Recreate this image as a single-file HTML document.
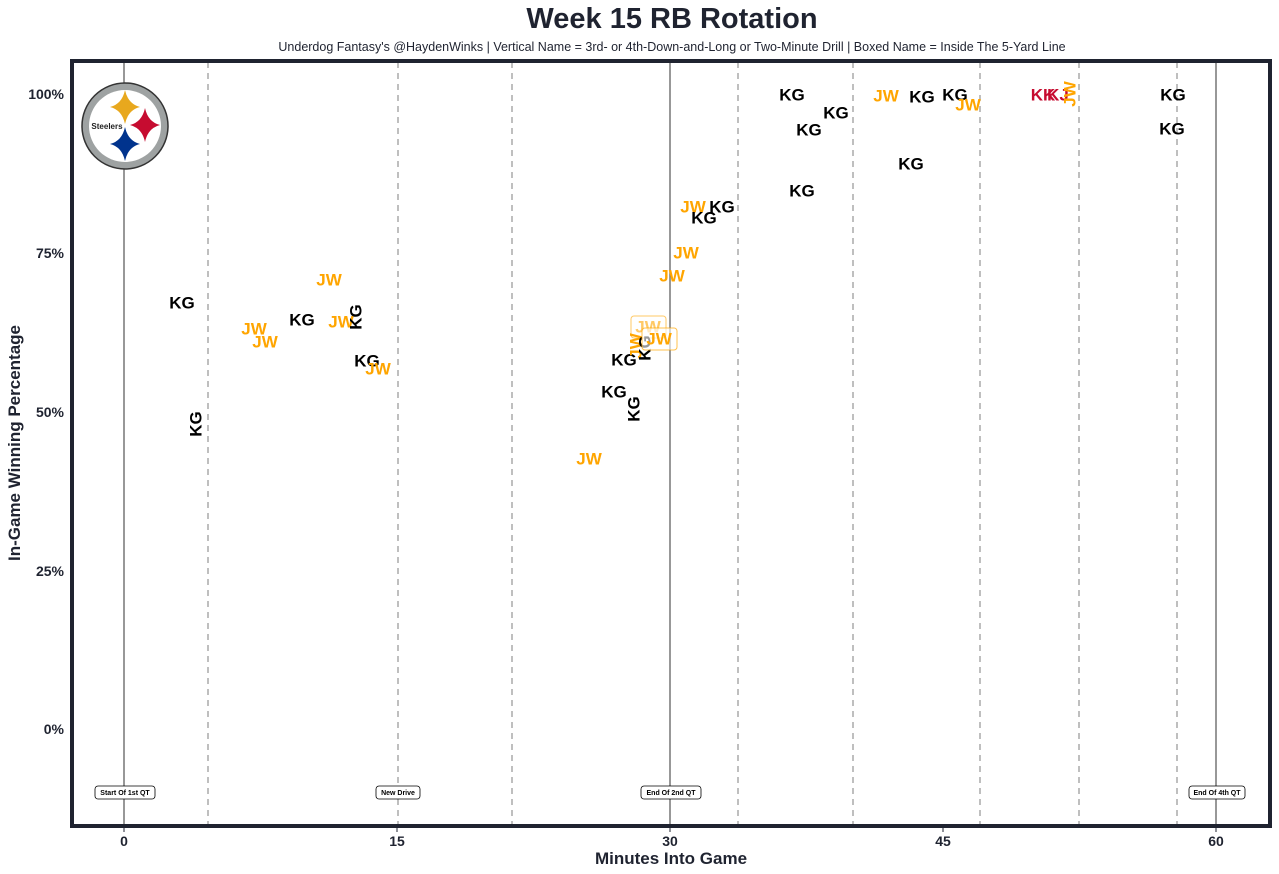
<!DOCTYPE html><html><head><style>body{margin:0;background:#fff}svg{display:block}text{font-family:"Liberation Sans",Arial,sans-serif}</style></head><body>
<svg width="1279" height="874" xmlns="http://www.w3.org/2000/svg">
<text x="672" y="28" text-anchor="middle" font-size="29" font-weight="bold" fill="#1f2330">Week 15 RB Rotation</text>
<text x="672" y="51" text-anchor="middle" font-size="12.5" fill="#1f2330">Underdog Fantasy's @HaydenWinks | Vertical Name = 3rd- or 4th-Down-and-Long or Two-Minute Drill | Boxed Name = Inside The 5-Yard Line</text>
<g stroke="#aaa" stroke-width="1.5" stroke-dasharray="6,5">
<line x1="208" y1="62" x2="208" y2="824"/><line x1="398" y1="62" x2="398" y2="824"/><line x1="512" y1="62" x2="512" y2="824"/><line x1="738" y1="62" x2="738" y2="824"/><line x1="853" y1="62" x2="853" y2="824"/><line x1="980" y1="62" x2="980" y2="824"/><line x1="1079" y1="62" x2="1079" y2="824"/><line x1="1177" y1="62" x2="1177" y2="824"/></g>
<g stroke="#777" stroke-width="1.5"><line x1="124" y1="62" x2="124" y2="824"/><line x1="670" y1="62" x2="670" y2="824"/><line x1="1216" y1="62" x2="1216" y2="824"/></g>
<rect x="72" y="61" width="1198" height="765" fill="none" stroke="#1f2330" stroke-width="4"/>
<g font-size="14" font-weight="bold" fill="#1f2330" text-anchor="end">
<text x="64" y="99">100%</text><text x="64" y="258">75%</text><text x="64" y="417">50%</text><text x="64" y="576">25%</text><text x="64" y="734">0%</text></g>
<g font-size="14" font-weight="bold" fill="#1f2330" text-anchor="middle">
<text x="124" y="846">0</text><text x="397" y="846">15</text><text x="670" y="846">30</text><text x="943" y="846">45</text><text x="1216" y="846">60</text></g>
<g stroke="#1f2330" stroke-width="1"><line x1="124" y1="828" x2="124" y2="832"/><line x1="397" y1="828" x2="397" y2="832"/><line x1="670" y1="828" x2="670" y2="832"/><line x1="943" y1="828" x2="943" y2="832"/><line x1="1216" y1="828" x2="1216" y2="832"/></g>
<text x="671" y="864" text-anchor="middle" font-size="17" font-weight="bold" fill="#1f2330">Minutes Into Game</text>
<text transform="translate(20,443) rotate(-90)" text-anchor="middle" font-size="17" font-weight="bold" fill="#1f2330">In-Game Winning Percentage</text>
<g>
<circle cx="125" cy="126" r="43" fill="#9ea2a2" stroke="#333" stroke-width="1.5"/>
<circle cx="125" cy="126" r="36" fill="#fff"/>
<path d="M125,90 Q128,104 140,107 Q128,110 125,124 Q122,110 110,107 Q122,104 125,90Z" fill="#e8a81e"/>
<path d="M145,108 Q148,122 160,125 Q148,128 145,142 Q142,128 130,125 Q142,122 145,108Z" fill="#c60c30"/>
<path d="M125,127 Q128,141 140,144 Q128,147 125,161 Q122,147 110,144 Q122,141 125,127Z" fill="#00338d"/>
<text x="107" y="129" text-anchor="middle" font-size="8" font-weight="bold" fill="#222">Steelers</text>
</g>
<g font-size="17" font-weight="bold" text-anchor="middle" dominant-baseline="central">
<text x="182" y="303" fill="#000">KG</text>
<text transform="translate(196,424) rotate(-90)" fill="#000">KG</text>
<text x="254" y="329" fill="#ffa500">JW</text><text x="265" y="342" fill="#ffa500">JW</text><text x="329" y="280" fill="#ffa500">JW</text>
<text x="302" y="320" fill="#000">KG</text><text x="341" y="322" fill="#ffa500">JW</text>
<text transform="translate(356,317) rotate(-90)" fill="#000">KG</text>
<text x="367" y="361" fill="#000">KG</text><text x="378" y="369" fill="#ffa500">JW</text>
<text x="589" y="459" fill="#ffa500">JW</text>
<text x="614" y="392" fill="#000">KG</text>
<text transform="translate(634,409) rotate(-90)" fill="#000">KG</text>
<text x="624" y="360" fill="#000">KG</text>
<rect x="631" y="316" width="35" height="22" rx="3" fill="#fff" fill-opacity="0.6" stroke="#ffa500" stroke-opacity="0.6"/>
<text x="648" y="327" fill="#ffa500" fill-opacity="0.6">JW</text>
<text transform="translate(636,346) rotate(-90)" fill="#ffa500">JW</text>
<text transform="translate(645,348) rotate(-90)" fill="#000">KG</text>
<rect x="642" y="328" width="35" height="22" rx="3" fill="#fff" fill-opacity="0.6" stroke="#ffa500" stroke-opacity="0.7"/>
<text x="659" y="339" fill="#ffa500">JW</text>
<text x="672" y="276" fill="#ffa500">JW</text><text x="686" y="253" fill="#ffa500">JW</text>
<text x="693" y="207" fill="#ffa500">JW</text><text x="722" y="207" fill="#000">KG</text><text x="704" y="218" fill="#000">KG</text>
<text x="792" y="95" fill="#000">KG</text><text x="836" y="113" fill="#000">KG</text><text x="809" y="130" fill="#000">KG</text><text x="802" y="191" fill="#000">KG</text>
<text x="886" y="96" fill="#ffa500">JW</text><text x="922" y="97" fill="#000">KG</text><text x="955" y="95" fill="#000">KG</text><text x="968" y="105" fill="#ffa500">JW</text><text x="911" y="164" fill="#000">KG</text>
<text x="1043" y="95" fill="#c60c30">KK</text><text x="1058" y="95" fill="#c60c30">KJ</text>
<text transform="translate(1070,94) rotate(-90)" fill="#ffa500">JW</text>
<text x="1173" y="95" fill="#000">KG</text><text x="1172" y="129" fill="#000">KG</text>
</g>
<g font-size="7" font-weight="bold" text-anchor="middle" fill="#000">
<rect x="95" y="786" width="60" height="13" rx="3" fill="#fff" stroke="#000" stroke-width="0.8"/><text x="125" y="795">Start Of 1st QT</text>
<rect x="376" y="786" width="44" height="13" rx="3" fill="#fff" stroke="#000" stroke-width="0.8"/><text x="398" y="795">New Drive</text>
<rect x="641" y="786" width="60" height="13" rx="3" fill="#fff" stroke="#000" stroke-width="0.8"/><text x="671" y="795">End Of 2nd QT</text>
<rect x="1189" y="786" width="56" height="13" rx="3" fill="#fff" stroke="#000" stroke-width="0.8"/><text x="1217" y="795">End Of 4th QT</text>
</g>
</svg></body></html>
